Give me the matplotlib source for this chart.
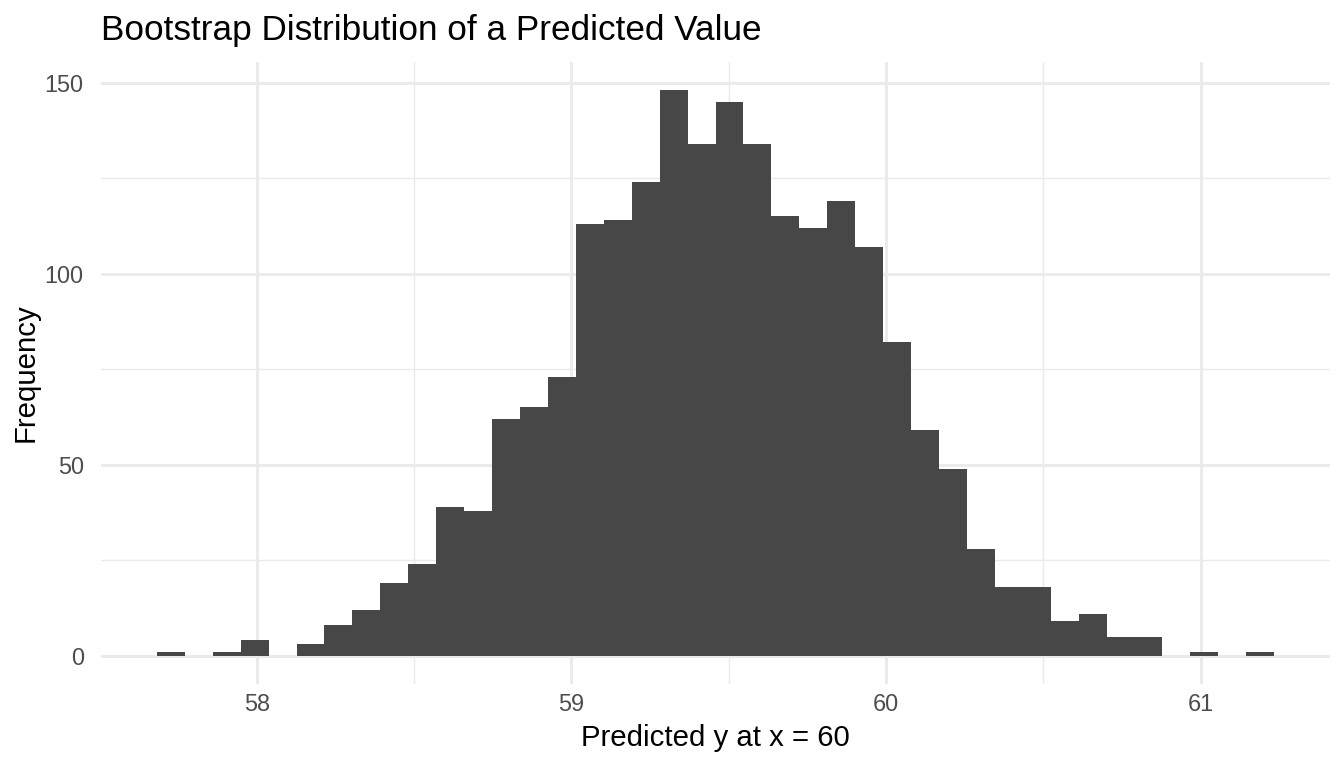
import numpy as np
import matplotlib
matplotlib.use("Agg")
import matplotlib.pyplot as plt
from matplotlib.ticker import FixedLocator

# Data
bin_start = 57.682
bin_width = 0.0888
counts = [1, 0, 1, 4, 0, 3, 8, 12, 19, 24, 39, 38, 62, 65, 73, 113, 114, 124,
          148, 134, 145, 134, 115, 112, 119, 107, 82, 59, 49, 28, 18, 18, 9,
          11, 5, 5, 0, 1, 0, 1]
x_ticks = [58, 59, 60, 61]
x_minor = [58.5, 59.5, 60.5]
y_ticks = [0, 50, 100, 150]
y_minor = [25, 75, 125]

title = "Bootstrap Distribution of a Predicted Value"
xlabel = "Predicted y at x = 60"
ylabel = "Frequency"

plt.rcParams['font.family'] = ['Liberation Sans', 'DejaVu Sans']

W, H = 1344, 768
dpi = 192
fig = plt.figure(figsize=(W / dpi, H / dpi), dpi=dpi)
fig.patch.set_facecolor('white')

left, right, top, bottom = 101, 1330, 62, 684
ax = fig.add_axes([left / W, 1 - bottom / H, (right - left) / W, (bottom - top) / H])

edges = bin_start + bin_width * np.arange(len(counts) + 1)
ax.stairs(counts, edges, fill=True, color='#474747', linewidth=0, zorder=3)

lo, hi = edges[0], edges[-1]
pad = 0.05 * (hi - lo)
ax.set_xlim(lo - pad, hi + pad)
ymax = max(counts)
ax.set_ylim(-0.05 * ymax, ymax * 1.05)

ax.xaxis.set_major_locator(FixedLocator(x_ticks))
ax.xaxis.set_minor_locator(FixedLocator(x_minor))
ax.yaxis.set_major_locator(FixedLocator(y_ticks))
ax.yaxis.set_minor_locator(FixedLocator(y_minor))
ax.grid(which='major', color='#EBEBEB', linewidth=1.1, zorder=0)
ax.grid(which='minor', color='#EBEBEB', linewidth=0.55, zorder=0)
ax.set_axisbelow(True)
for s in ax.spines.values():
    s.set_visible(False)
ax.tick_params(which='both', length=0)
ax.tick_params(axis='both', labelsize=8.8, labelcolor='#4D4D4D')
ax.tick_params(axis='x', pad=3.5)
ax.tick_params(axis='y', pad=6.5)
ax.set_xticklabels([str(t) for t in x_ticks])
ax.set_yticklabels([str(t) for t in y_ticks])

ax.set_xlabel(xlabel, fontsize=11, color='black', labelpad=3)
ax.set_ylabel(ylabel, fontsize=11, color='black', labelpad=2)
fig.text(left / W, 1 - 40 / H, title, fontsize=13.2, color='black',
         ha='left', va='baseline')

fig.savefig("out.png", dpi=dpi, facecolor='white')
